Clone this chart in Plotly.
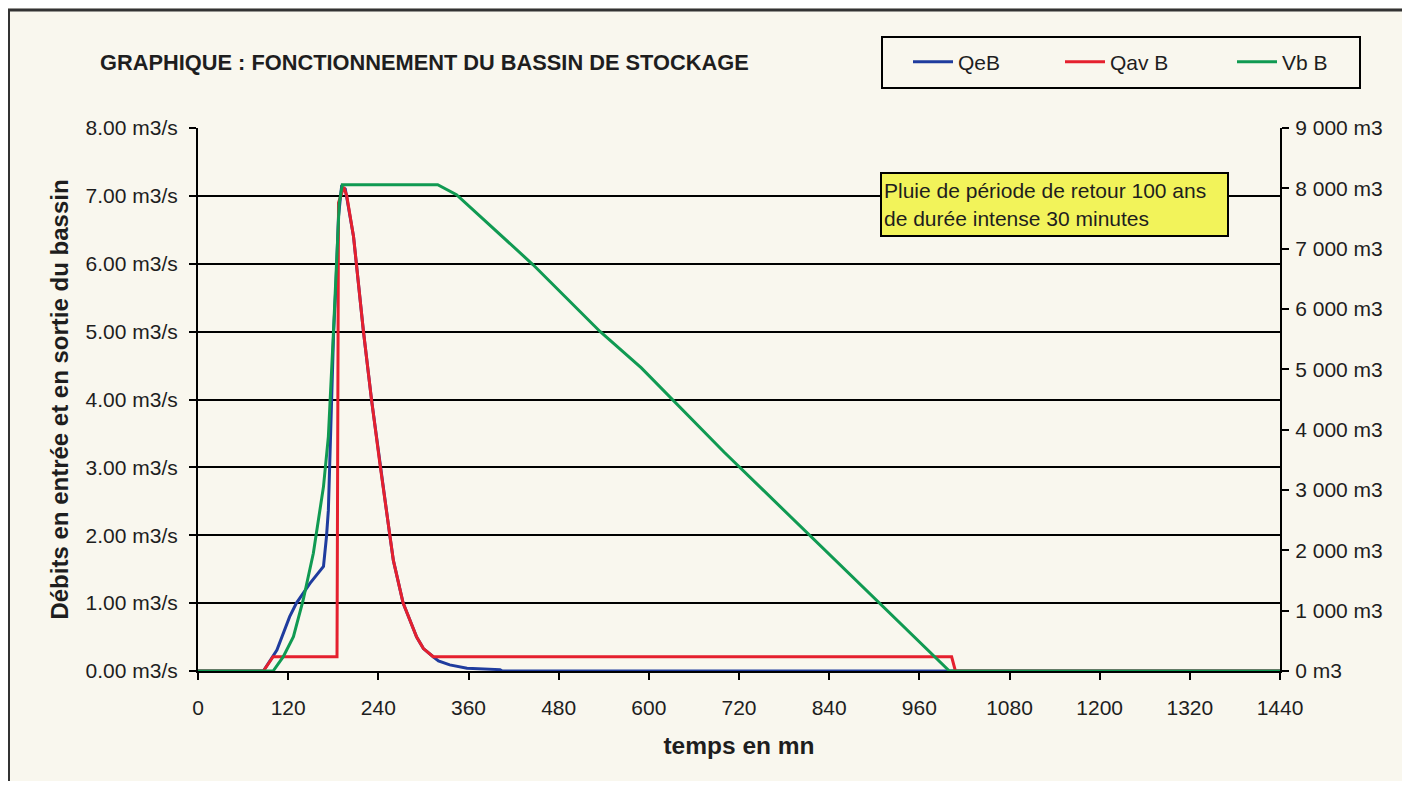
import plotly.graph_objects as go

# ---------------- data ----------------
qeb_t = [0, 87, 105, 122, 131, 149, 167, 171, 173.5, 176, 179, 180.5, 183.7, 187, 191,
         196, 207, 220, 231, 242, 255.5, 260, 273, 291, 300, 313, 320, 335, 358, 402, 405, 1440]
qeb_v = [0, 0, 0.31, 0.80, 1.00, 1.29, 1.54, 1.98, 2.37, 3.45, 4.43, 5.00, 5.71, 6.70, 7.13,
         7.10, 6.40, 5.02, 3.99, 3.06, 1.98, 1.63, 1.00, 0.50, 0.33, 0.21, 0.15, 0.09, 0.04, 0.02, 0, 0]

qav_t = [0, 87, 100, 185, 187, 194, 198, 207, 220, 231, 242, 255.5, 260, 273, 291, 300, 313,
         1003, 1008, 1440]
qav_v = [0, 0, 0.21, 0.21, 6.90, 7.13, 7.00, 6.40, 5.02, 3.99, 3.06, 1.98, 1.63, 1.00, 0.50, 0.33, 0.21,
         0.21, 0, 0]

vb_t = [0, 100, 113.5, 127, 140, 153.5, 167, 173.5, 180, 184.6, 188, 192, 319, 344, 380,
        446, 535, 590, 700, 850, 1000, 1440]
vb_v = [0, 0, 237, 569, 1177, 1952, 3056, 3886, 5544, 6932, 7756, 8060, 8060, 7894, 7484,
        6733, 5627, 5025, 3630, 1815, 0, 0]

series_names = ["QeB", "Qav B", "Vb B"]
x_ticks = [0, 120, 240, 360, 480, 600, 720, 840, 960, 1080, 1200, 1320, 1440]
y_left_vals = [0, 1, 2, 3, 4, 5, 6, 7, 8]
y_left_text = ["0.00 m3/s", "1.00 m3/s", "2.00 m3/s", "3.00 m3/s", "4.00 m3/s",
               "5.00 m3/s", "6.00 m3/s", "7.00 m3/s", "8.00 m3/s"]
y_right_vals = [0, 1000, 2000, 3000, 4000, 5000, 6000, 7000, 8000, 9000]
y_right_text = ["0 m3", "1 000 m3", "2 000 m3", "3 000 m3", "4 000 m3", "5 000 m3",
                "6 000 m3", "7 000 m3", "8 000 m3", "9 000 m3"]

title_text = "GRAPHIQUE : FONCTIONNEMENT DU BASSIN DE STOCKAGE"
note_text = "Pluie de période de retour 100 ans<br>de durée intense 30 minutes"

# ---------------- layout helpers ----------------
O = 8                              # page body margin of the html page
W, H = 1410 - 2 * O, 789 - 2 * O   # figure size so that it fits the window without scrollbars
L, R, T, B = 198, 1280, 128, 671   # plot area in window pixels


def px_x(px):
    return (px - L) / (R - L)


def px_y(py):
    return (B - py) / (B - T)


PAPER = "#f9f7ee"
INK = "#1e1e1e"
FONT = "Liberation Sans, Arial, sans-serif"
TICK_SIZE = 21

fig = go.Figure()
fig.add_trace(go.Scatter(x=qeb_t, y=qeb_v, mode="lines", name=series_names[0],
                         line=dict(color="#1f3c9e", width=3), legend="legend"))
fig.add_trace(go.Scatter(x=qav_t, y=qav_v, mode="lines", name=series_names[1],
                         line=dict(color="#e5202e", width=3), legend="legend2"))
fig.add_trace(go.Scatter(x=vb_t, y=vb_v, mode="lines", name=series_names[2], yaxis="y2",
                         line=dict(color="#109a52", width=3), legend="legend3"))

leg_common = dict(orientation="h", bgcolor="rgba(0,0,0,0)", borderwidth=0, itemwidth=40,
                  font=dict(family=FONT, size=21, color=INK), visible=True,
                  xanchor="left", yanchor="middle", y=px_y(62))

fig.update_layout(
    width=W, height=H, autosize=False, showlegend=True,
    margin=dict(l=L - O, r=(W + O) - R, t=T - O, b=(H + O) - B, pad=0),
    paper_bgcolor=PAPER, plot_bgcolor=PAPER,
    font=dict(family=FONT, size=20, color=INK),
    title=dict(text="<b>" + title_text + "</b>", x=(100 - O) / W, xanchor="left",
               y=1 - (62 - O) / H, yanchor="middle",
               font=dict(family=FONT, size=21.8, color=INK)),
    legend=dict(leg_common, x=px_x(908)),
    legend2=dict(leg_common, x=px_x(1060)),
    legend3=dict(leg_common, x=px_x(1232)),
    xaxis=dict(range=[0, 1440], tickvals=x_ticks, showgrid=False, zeroline=False,
               showline=True, linecolor="black", linewidth=2, mirror=False,
               ticks="outside", ticklen=7, tickwidth=2, tickcolor="black",
               tickfont=dict(family=FONT, size=TICK_SIZE, color=INK), ticklabelstandoff=10,
               title=dict(text="<b>temps en mn</b>", standoff=19,
                          font=dict(family=FONT, size=24.5, color=INK))),
    yaxis=dict(range=[0, 8], tickvals=y_left_vals, ticktext=y_left_text,
               showgrid=True, gridcolor="black", gridwidth=2, zeroline=False,
               showline=True, linecolor="black", linewidth=2,
               ticks="outside", ticklen=7, tickwidth=2, tickcolor="black",
               tickfont=dict(family=FONT, size=TICK_SIZE, color=INK), ticklabelstandoff=7,
               title=dict(text="<b>Débits en entrée et en sortie du bassin</b>", standoff=10,
                          font=dict(family=FONT, size=24, color=INK))),
    yaxis2=dict(range=[0, 9000], overlaying="y", side="right", tickvals=y_right_vals,
                ticktext=y_right_text, showgrid=False, zeroline=False,
                showline=True, linecolor="black", linewidth=2,
                ticks="outside", ticklen=7, tickwidth=2, tickcolor="black",
                tickfont=dict(family=FONT, size=TICK_SIZE, color=INK), ticklabelstandoff=2),
)

# legend frame
fig.add_shape(type="rect", xref="paper", yref="paper",
              x0=px_x(882), x1=px_x(1360), y0=px_y(88), y1=px_y(37),
              line=dict(color="black", width=2), fillcolor="rgba(0,0,0,0)", layer="below")
# chart frame (scanned sheet border)
fig.add_shape(type="line", xref="paper", yref="paper",
              x0=px_x(O), x1=px_x(W + O), y0=px_y(10), y1=px_y(10),
              line=dict(color="#333333", width=3))
fig.add_shape(type="line", xref="paper", yref="paper",
              x0=px_x(O + 1), x1=px_x(O + 1), y0=px_y(10), y1=px_y(H + O),
              line=dict(color="#333333", width=2))

# yellow note
fig.add_annotation(text=note_text, xref="paper", yref="paper",
                   x=px_x(880), y=px_y(172), xanchor="left", yanchor="top",
                   align="left", showarrow=False, width=341, height=57,
                   bgcolor="#f2f35a", bordercolor="black", borderwidth=2, borderpad=2,
                   font=dict(family=FONT, size=21, color=INK))

fig.write_html("out.html")
